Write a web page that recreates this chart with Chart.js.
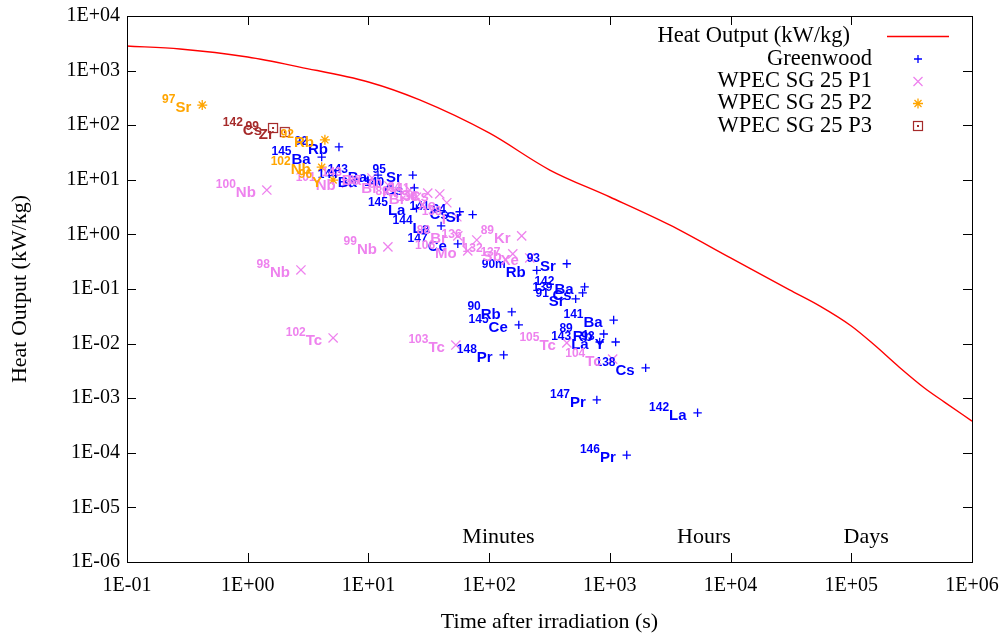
<!DOCTYPE html>
<html>
<head>
<meta charset="utf-8">
<script src="https://cdn.jsdelivr.net/npm/chart.js@4.4.1/dist/chart.umd.min.js"></script>
<style>
  html, body { margin: 0; padding: 0; background: #fff; }
</style>
</head>
<body>
<canvas id="heat" width="1005" height="636"></canvas>
<script>
// heat output curve
const heatTime = [0.1, 0.275, 1, 2.7, 10, 26.6, 100, 318, 1000, 3126, 1e4, 30800, 54600, 1e5, 155600, 2.5e5, 403600, 591000, 1e6];
const heatOutput = [2820, 2490, 1770, 1160, 618, 290, 72, 15.1, 4.84, 1.49, 0.37, 0.096, 0.049, 0.021, 0.0094, 0.0037, 0.00154, 8.5e-4, 3.8e-4];

// Greenwood
const gwNuclide = ['92Rb', '145Ba', '143Ba', '144Ba', '95Sr', '140Cs', '145La', '144La', '147Ce', '141Cs', '94Sr',
  '93Sr', '90mRb', '142Ba', '139Cs', '91Sr', '90Rb', '145Ce', '141Ba', '89Rb', '143La', '93Y', '138Cs',
  '147Pr', '142La', '146Pr', '148Pr'];
const gwTime = [5.7, 4.1, 12, 9.9, 23.3, 24, 25, 40, 55, 57, 73,
  440, 248, 618, 595, 521, 154, 176, 1075, 890, 824, 1117, 1980,
  780, 5330, 1380, 132];
const gwHeat = [40, 26, 12.2, 9.9, 12.2, 7.1, 3.0, 1.43, 0.67, 2.6, 2.3,
  0.29, 0.22, 0.109, 0.085, 0.066, 0.038, 0.022, 0.027, 0.015, 0.0107, 0.0107, 0.0036,
  9.3e-4, 5.4e-4, 9.1e-5, 0.0062];

// WPEC SG 25 P1
const p1Nuclide = ['100Nb', '98Nb', '102Tc', '99Nb', '103Tc', '105Tc', '104Tc', '89Kr', '136I', '106Mo', '88Br',
  '132Sb', '137Xe', '143Ba', '87Br', '90Kr', '89Br', '94Sr', '141Cs', '139Xe', '138I', '101Nb'];
const p1Time = [1.44, 2.76, 5.1, 14.5, 53, 440, 1055, 186, 79, 66.5, 55,
  157, 217, 10.7, 14.8, 22, 25, 31, 39, 44.6, 54, 6.6];
const p1Heat = [6.5, 0.223, 0.0127, 0.59, 0.0094, 0.0103, 0.0052, 0.94, 0.79, 0.5, 0.94,
  0.44, 0.37, 10.8, 7.7, 6.5, 4.8, 5.7, 5.5, 3.8, 2.1, 8.7];

// WPEC SG 25 P2
const p2Nuclide = ['97Sr', '92Rb', '102Nb', '96Y'];
const p2Time = [0.42, 4.36, 4.1, 5.1];
const p2Heat = [234, 54, 17, 9.9];

// WPEC SG 25 P3
const p3Nuclide = ['142Cs', '99Zr'];
const p3Time = [1.62, 2.03];
const p3Heat = [89, 75];

const decades = [1e-1, 1, 1e1, 1e2, 1e3, 1e4, 1e5, 1e6];
const heatDecades = [1e-6, 1e-5, 1e-4, 1e-3, 1e-2, 1e-1, 1, 1e1, 1e2, 1e3, 1e4];

const periodNames = ['Minutes', 'Hours', 'Days'];
const periodTimes = [60, 3600, 86400];

const toPoints = (xs, ys) => xs.map((x, i) => ({ x: x, y: ys[i] }));

function fmtExp(v) {
  const e = Math.round(Math.log10(v));
  const s = e < 0 ? '-' : '+';
  return '1E' + s + String(Math.abs(e)).padStart(2, '0');
}

// square with dot marker
const boxDot = document.createElement('canvas');
boxDot.width = 14; boxDot.height = 14;
(function () {
  const c = boxDot.getContext('2d');
  c.strokeStyle = '#a52a2a';
  c.lineWidth = 1.2;
  c.strokeRect(2.5, 2.5, 9, 9);
  c.fillStyle = '#a52a2a';
  c.fillRect(6, 6, 2, 2);
})();

const SERIF = '"Liberation Serif", "Times New Roman", serif';
const SANS = '"Liberation Sans", Arial, sans-serif';

const frame = {
  id: 'frame',
  afterDraw(chart) {
    const { ctx, chartArea: a, scales: { x, y } } = chart;
    ctx.save();
    ctx.strokeStyle = '#000';
    ctx.lineWidth = 1;
    ctx.strokeRect(a.left + 0.5, a.top + 0.5, a.right - a.left, a.bottom - a.top);
    ctx.beginPath();
    x.ticks.forEach(t => {
      const px = Math.round(x.getPixelForValue(t.value)) + 0.5;
      ctx.moveTo(px, a.bottom); ctx.lineTo(px, a.bottom - 9);
      ctx.moveTo(px, a.top); ctx.lineTo(px, a.top + 9);
    });
    y.ticks.forEach(t => {
      const py = Math.round(y.getPixelForValue(t.value)) + 0.5;
      ctx.moveTo(a.left, py); ctx.lineTo(a.left + 9, py);
      ctx.moveTo(a.right, py); ctx.lineTo(a.right - 9, py);
    });
    ctx.stroke();

    // period words
    ctx.fillStyle = '#000';
    ctx.font = '22px ' + SERIF;
    ctx.textAlign = 'left';
    ctx.textBaseline = 'middle';
    periodNames.forEach((n, i) => {
      ctx.fillText(n, x.getPixelForValue(periodTimes[i]), y.getPixelForValue(2.8e-6));
    });

    // legend
    const rows = [36.5, 59, 81.5, 103.5, 126];
    chart.data.datasets.forEach((ds, i) => {
      const ry = rows[i];
      ctx.fillStyle = '#000';
      ctx.font = '22.5px ' + SERIF;
      ctx.textAlign = 'right';
      ctx.fillText(ds.label, i === 0 ? 850 : 872, ry);
      ctx.strokeStyle = ds.borderColor;
      ctx.lineWidth = 1.3;
      ctx.beginPath();
      const mx = 918;
      if (i === 0) {
        ctx.lineWidth = 1.5;
        ctx.moveTo(887, ry); ctx.lineTo(949, ry);
      } else if (ds.pointStyle === 'cross') {
        ctx.moveTo(mx - 4, ry); ctx.lineTo(mx + 4, ry);
        ctx.moveTo(mx, ry - 4); ctx.lineTo(mx, ry + 4);
      } else if (ds.pointStyle === 'crossRot') {
        ctx.moveTo(mx - 4.5, ry - 4.5); ctx.lineTo(mx + 4.5, ry + 4.5);
        ctx.moveTo(mx - 4.5, ry + 4.5); ctx.lineTo(mx + 4.5, ry - 4.5);
      } else if (ds.pointStyle === 'star') {
        ctx.moveTo(mx - 5, ry); ctx.lineTo(mx + 5, ry);
        ctx.moveTo(mx, ry - 5); ctx.lineTo(mx, ry + 5);
        ctx.moveTo(mx - 3.5, ry - 3.5); ctx.lineTo(mx + 3.5, ry + 3.5);
        ctx.moveTo(mx - 3.5, ry + 3.5); ctx.lineTo(mx + 3.5, ry - 3.5);
      } else {
        ctx.drawImage(boxDot, mx - 7, ry - 7);
      }
      ctx.stroke();
    });
    ctx.restore();
  }
};

const nuclideLabels = {
  id: 'nuclideLabels',
  afterDatasetsDraw(chart) {
    const ctx = chart.ctx;
    ctx.save();
    ctx.textAlign = 'right';
    ctx.textBaseline = 'alphabetic';
    chart.data.datasets.forEach((ds, di) => {
      if (!ds.nuclides) return;
      const meta = chart.getDatasetMeta(di);
      meta.data.forEach((pt, i) => {
        const m = ds.nuclides[i].match(/^(\d+m?)(.+)$/);
        const ex = pt.x - 11;
        ctx.fillStyle = ds.borderColor;
        ctx.font = 'bold 15px ' + SANS;
        ctx.fillText(m[2], ex, pt.y + 7);
        const w = ctx.measureText(m[2]).width;
        ctx.font = 'bold 12px ' + SANS;
        ctx.fillText(m[1], ex - w, pt.y - 2);
      });
    });
    ctx.restore();
  }
};

new Chart(document.getElementById('heat'), {
  type: 'scatter',
  data: {
    datasets: [
      {
        type: 'line',
        label: 'Heat Output (kW/kg)',
        data: toPoints(heatTime, heatOutput),
        borderColor: '#ff0000',
        borderWidth: 1.4,
        pointRadius: 0,
        fill: false,
        cubicInterpolationMode: 'monotone'
      },
      {
        label: 'Greenwood',
        data: toPoints(gwTime, gwHeat),
        nuclides: gwNuclide,
        pointStyle: 'cross',
        pointRadius: 4.2,
        borderColor: '#0000ff',
        borderWidth: 1.3
      },
      {
        label: 'WPEC SG 25 P1',
        data: toPoints(p1Time, p1Heat),
        nuclides: p1Nuclide,
        pointStyle: 'crossRot',
        pointRadius: 6.5,
        borderColor: '#ee82ee',
        borderWidth: 1.3
      },
      {
        label: 'WPEC SG 25 P2',
        data: toPoints(p2Time, p2Heat),
        nuclides: p2Nuclide,
        pointStyle: 'star',
        pointRadius: 5,
        borderColor: '#ffa500',
        borderWidth: 1.3
      },
      {
        label: 'WPEC SG 25 P3',
        data: toPoints(p3Time, p3Heat),
        nuclides: p3Nuclide,
        pointStyle: boxDot,
        pointRadius: 6,
        borderColor: '#a52a2a',
        borderWidth: 1.3
      }
    ]
  },
  options: {
    responsive: false,
    animation: false,
    layout: { padding: { left: 0, top: 16, right: 33, bottom: 0 } },
    plugins: { legend: { display: false }, tooltip: { enabled: false } },
    scales: {
      x: {
        type: 'logarithmic',
        min: 0.1,
        max: 1e6,
        afterFit: s => { s.height = 74; s.paddingLeft = 0; s.paddingRight = 0; },
        afterBuildTicks: s => { s.ticks = decades.map(v => ({ value: v })); },
        grid: { display: false, drawTicks: false },
        border: { display: false },
        ticks: {
          padding: 12,
          color: '#000',
          font: { family: SERIF, size: 20 },
          maxRotation: 0,
          autoSkip: false,
          callback: v => fmtExp(v)
        },
        title: {
          display: true,
          text: 'Time after irradiation (s)',
          color: '#000',
          font: { family: SERIF, size: 22 },
          padding: { top: 0, bottom: 1 }
        }
      },
      y: {
        type: 'logarithmic',
        min: 1e-6,
        max: 1e4,
        afterFit: s => { s.width = 127; s.paddingTop = 0; s.paddingBottom = 0; },
        afterBuildTicks: s => { s.ticks = heatDecades.map(v => ({ value: v })); },
        grid: { display: false, drawTicks: false },
        border: { display: false },
        ticks: {
          padding: 7,
          color: '#000',
          font: { family: SERIF, size: 20 },
          autoSkip: false,
          callback: v => fmtExp(v)
        },
        title: {
          display: true,
          text: 'Heat Output (kW/kg)',
          color: '#000',
          font: { family: SERIF, size: 22 },
          padding: { top: 7, bottom: 0 }
        }
      }
    }
  },
  plugins: [nuclideLabels, frame]
});
</script>
</body>
</html>
